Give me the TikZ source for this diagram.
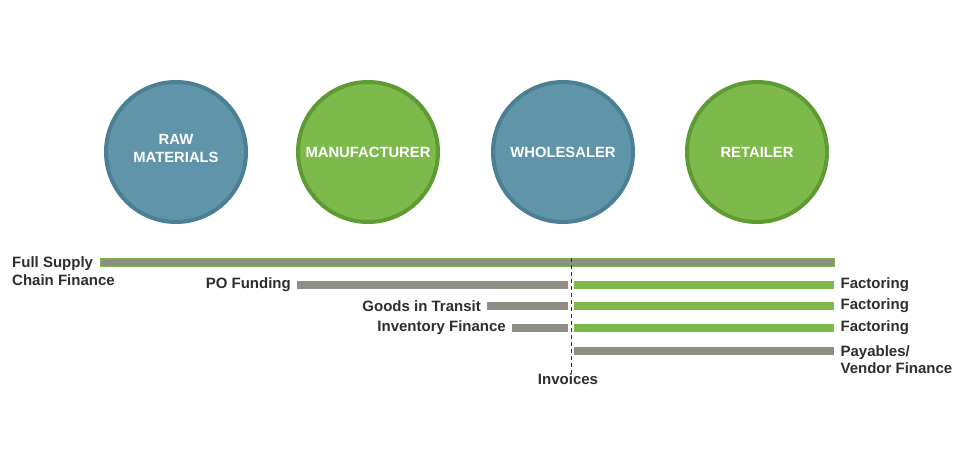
\documentclass[tikz,border=0pt]{standalone}
\usepackage{fontspec}
\setmainfont{Liberation Sans}
\usetikzlibrary{positioning}
\definecolor{tealblue}{HTML}{5F94A9}
\definecolor{tealedge}{HTML}{4B7F93}
\definecolor{leafgreen}{HTML}{7DB94B}
\definecolor{leafedge}{HTML}{5E9B33}
\definecolor{bargray}{HTML}{8E8E86}
\definecolor{inkgray}{HTML}{2E2E2E}
\tikzstyle{stage} = [circle, line width=4pt, minimum size=140pt, inner sep=0pt, text=white, align=center, font=\fontsize{14.8}{18.5}\selectfont\bfseries]
\tikzstyle{bluestage} = [stage, draw=tealedge, fill=tealblue]
\tikzstyle{greenstage} = [stage, draw=leafedge, fill=leafgreen]
\tikzstyle{graybar} = [rectangle, fill=bargray, minimum height=8pt, inner sep=0pt, anchor=west]
\tikzstyle{greenbar} = [rectangle, fill=leafgreen, minimum height=8pt, inner sep=0pt, anchor=west]
\tikzstyle{finlabel} = [inner sep=0pt, text=inkgray, align=left, font=\fontsize{15}{17.5}\selectfont\bfseries]
\tikzstyle{cut} = [dash pattern=on 4pt off 3pt, line width=1pt, draw=inkgray]

\begin{document}
\begin{tikzpicture}[x=1pt, y=1pt]
  \useasboundingbox (0,0) rectangle (960,462);
  % stages of the chain
  \node[bluestage] (raw) at (176,310) {\raisebox{7pt}{\shortstack{RAW\\[5pt]MATERIALS}}};
  \node[greenstage] (maker) at (368,310) {MANUFACTURER};
  \node[bluestage] (whole) at (563,310) {WHOLESALER};
  \node[greenstage] (retail) at (757,310) {RETAILER};

  % before invoices
  \node[graybar, draw=leafgreen, line width=0.6pt, minimum width=734pt] (full) at (100,200) {};
  \node[graybar, minimum width=271pt] (po) at (297,177) {};
  \node[graybar, minimum width=81pt] (transit) at (487,156) {};
  \node[graybar, minimum width=56pt] (stock) at (512,134) {};

  % after invoices
  \node[greenbar, minimum width=260pt] (fact1) at (574,177) {};
  \node[greenbar, minimum width=260pt] (fact2) at (574,156) {};
  \node[greenbar, minimum width=260pt] (fact3) at (574,134) {};
  \node[graybar, minimum width=260pt] (pay) at (574,111) {};

  % labels
  \node[finlabel, anchor=west] (fulltxt) at (12,191) {Full Supply\\Chain Finance};
  \node[finlabel, left=6pt of po] (potxt) {PO Funding};
  \node[finlabel, left=6pt of transit] (transittxt) {Goods in Transit};
  \node[finlabel, left=6pt of stock] (stocktxt) {Inventory Finance};
  \node[finlabel, right=6pt of fact1] (fact1txt) {Factoring};
  \node[finlabel, right=6pt of fact2] (fact2txt) {Factoring};
  \node[finlabel, right=6pt of fact3] (fact3txt) {Factoring};
  \node[finlabel, right=6pt of pay, yshift=-8.5pt] (paytxt) {Payables/\\Vendor Finance};

  % invoice cut
  \coordinate (cuttop) at (571,204);
  \node[finlabel] (invoices) at (568,83) {Invoices};
  \draw[cut] (cuttop) -- (cuttop |- invoices.north);
\end{tikzpicture}
\end{document}
